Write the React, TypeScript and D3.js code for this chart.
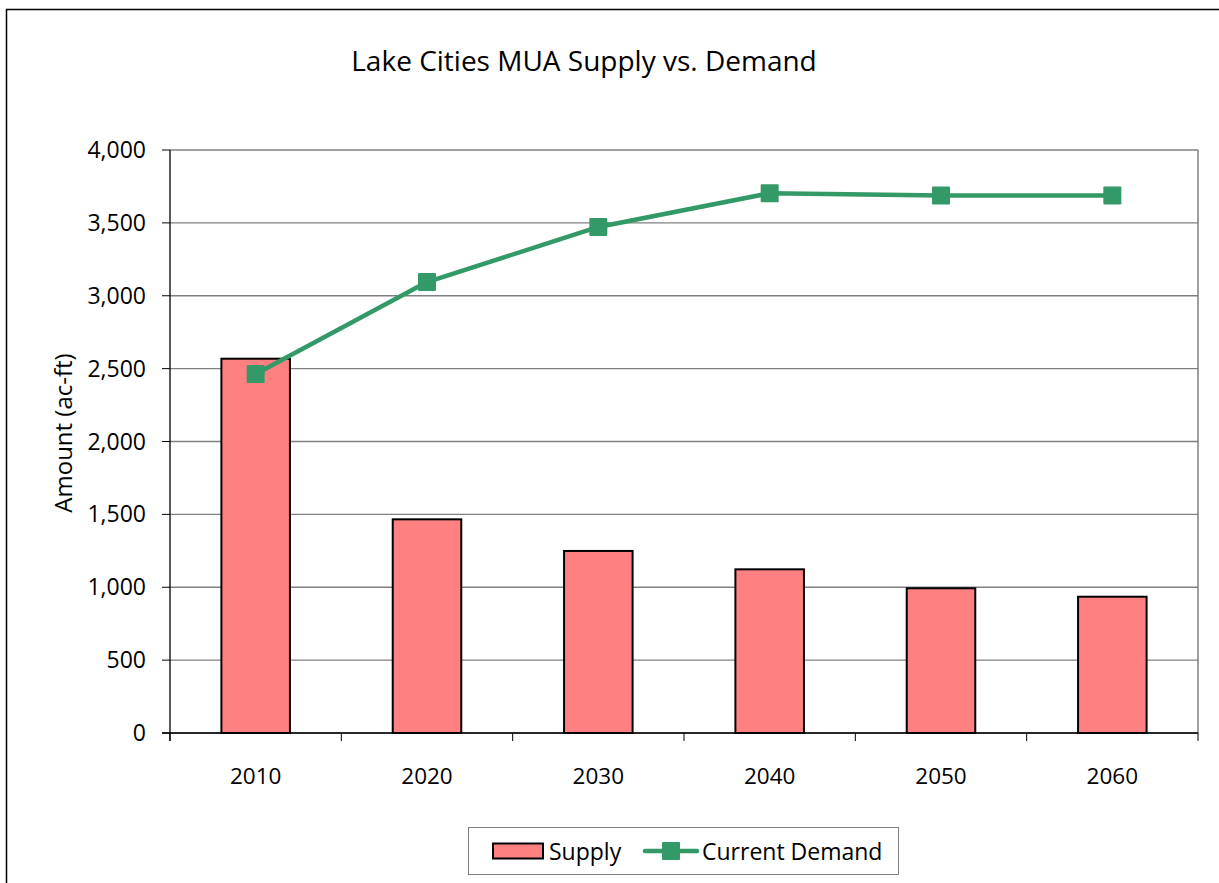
import * as d3 from "d3";

const years = ["2010", "2020", "2030", "2040", "2050", "2060"];
const supply = [2568, 1466, 1249, 1123, 993, 935];
const currentDemand = [2463, 3094, 3472, 3703, 3687, 3687];
const yTicks = [0, 500, 1000, 1500, 2000, 2500, 3000, 3500, 4000];

const W = 1219;
const H = 883;
const left = 170;
const right = 1198;
const top = 150;
const bottom = 733;
const font = "'Open Sans', 'Liberation Sans', sans-serif";
const green = "#339966";

export default function App() {
  const x = d3.scaleBand().domain(years).range([left, right]).paddingInner(0.6).paddingOuter(0.3);
  const xOuter = d3.scaleBand().domain(years).range([left, right]);
  const y = d3.scaleLinear().domain([0, 4000]).range([bottom, top]);
  const fmt = d3.format(",");

  const line = d3
    .line<number>()
    .x((_, i) => (xOuter(years[i]) as number) + xOuter.bandwidth() / 2)
    .y((d) => y(d));

  const boundaries = years.map((yr) => xOuter(yr) as number).concat([right]);

  return (
    <div style={{ position: "absolute", left: 0, top: 0 }}>
      <svg width={W} height={H} style={{ display: "block" }}>
        <rect x={0} y={0} width={W} height={H} fill="#fff" />
        <rect x={6.5} y={9.5} width={W + 20} height={H + 20} fill="none" stroke="#000" strokeWidth={1.5} />

        <text x={584} y={71} textAnchor="middle" fontFamily={font} fontSize={28} fill="#000">
          Lake Cities MUA Supply vs. Demand
        </text>

        {/* gridlines */}
        {yTicks.map((t) => (
          <line key={"g" + t} x1={left} x2={right} y1={y(t)} y2={y(t)} stroke="#808080" strokeWidth={1.3} />
        ))}
        <line x1={right} x2={right} y1={top} y2={bottom} stroke="#808080" strokeWidth={1.5} />

        {/* bars */}
        {supply.map((v, i) => (
          <rect
            key={"b" + i}
            x={x(years[i])}
            y={y(v)}
            width={x.bandwidth()}
            height={bottom - y(v)}
            fill="#ff8080"
            stroke="#000"
            strokeWidth={2}
          />
        ))}

        {/* axes */}
        <line x1={left} x2={left} y1={top} y2={bottom + 8} stroke="#000" strokeWidth={1.3} />
        <line x1={left - 8} x2={right} y1={bottom} y2={bottom} stroke="#000" strokeWidth={1.3} />
        {yTicks.map((t) => (
          <g key={"t" + t}>
            <line x1={left - 8} x2={left} y1={y(t)} y2={y(t)} stroke="#000" strokeWidth={1} />
            <text x={left - 24} y={y(t) + 8} textAnchor="end" fontFamily={font} fontSize={23} fill="#000">
              {fmt(t)}
            </text>
          </g>
        ))}
        {boundaries.map((b, i) => (
          <line key={"xt" + i} x1={b} x2={b} y1={bottom} y2={bottom + 8} stroke="#000" strokeWidth={1} />
        ))}
        {years.map((yr) => (
          <text
            key={"xl" + yr}
            x={(xOuter(yr) as number) + xOuter.bandwidth() / 2}
            y={784}
            textAnchor="middle"
            fontFamily={font}
            fontSize={22.5}
            fill="#000"
          >
            {yr}
          </text>
        ))}

        <text
          transform={`translate(72,433) rotate(-90)`}
          textAnchor="middle"
          fontFamily={font}
          fontSize={24}
          fill="#000"
        >
          Amount (ac-ft)
        </text>

        {/* demand line */}
        <path d={line(currentDemand) || ""} fill="none" stroke={green} strokeWidth={4.5} strokeLinejoin="round" />
        {currentDemand.map((v, i) => (
          <rect
            key={"m" + i}
            x={(xOuter(years[i]) as number) + xOuter.bandwidth() / 2 - 9}
            y={y(v) - 9}
            width={18}
            height={18}
            rx={1}
            fill={green}
          />
        ))}

        {/* legend */}
        <rect x={468.5} y={827.5} width={430} height={47} fill="#fff" stroke="#808080" strokeWidth={1} />
        <rect x={493} y={843.5} width={50} height={15} fill="#ff8080" stroke="#000" strokeWidth={2} />
        <text x={549} y={860} fontFamily={font} fontSize={23} fill="#000">
          Supply
        </text>
        <line x1={645} x2={697} y1={851} y2={851} stroke={green} strokeWidth={4.5} strokeLinecap="round" />
        <rect x={662} y={842} width={18} height={18} rx={1} fill={green} />
        <text x={702} y={860} fontFamily={font} fontSize={23} fill="#000">
          Current Demand
        </text>
      </svg>
    </div>
  );
}
